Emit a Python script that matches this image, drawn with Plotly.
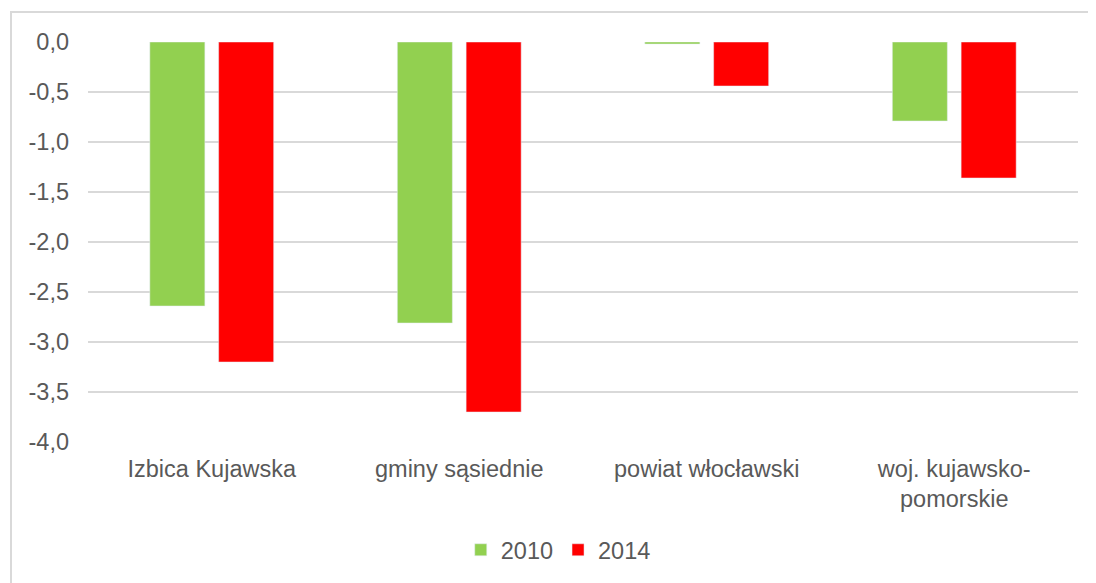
import plotly.graph_objects as go

categories = ["Izbica Kujawska", "gminy sąsiednie", "powiat włocławski", "woj. kujawsko-<br>pomorskie"]
values_2010 = [-2.64, -2.81, -0.02, -0.79]
values_2014 = [-3.20, -3.70, -0.44, -1.36]
y_ticks = [0, -0.5, -1.0, -1.5, -2.0, -2.5, -3.0, -3.5, -4.0]
y_tick_labels = ["0,0", "-0,5", "-1,0", "-1,5", "-2,0", "-2,5", "-3,0", "-3,5", "-4,0"]

font_family = "Liberation Sans, Arial, sans-serif"
text_color = "#595959"
fs = 23.5

fig = go.Figure()
fig.add_trace(go.Bar(name="2010", x=categories, y=values_2010, marker_color="#92D050"))
fig.add_trace(go.Bar(name="2014", x=categories, y=values_2014, marker_color="#FF0000"))

fig.update_layout(
    width=1096, height=583,
    margin=dict(l=80, r=26, t=34, b=149, autoexpand=False),
    paper_bgcolor="white", plot_bgcolor="white",
    barmode="group", bargap=0.444, bargroupgap=0.2,
    font=dict(family=font_family, size=fs, color=text_color),
    showlegend=True,
    legend=dict(orientation="h", x=0.475, xanchor="center", y=-0.27, yanchor="middle",
                font=dict(size=fs, color=text_color), itemwidth=30, traceorder="normal"),
    xaxis=dict(showgrid=False, showline=False, zeroline=False, ticks="", automargin=False,
               ticklabelstandoff=10, tickfont=dict(size=fs, color=text_color)),
    yaxis=dict(range=[-4.0, 0.0], tickvals=y_ticks, ticktext=y_tick_labels, automargin=False,
               showgrid=True, gridcolor="#D9D9D9", gridwidth=1.5,
               zeroline=False, showline=False, ticks="",
               ticklabelstandoff=18, tickfont=dict(size=fs, color=text_color)),
    shapes=[dict(type="rect", xref="paper", yref="paper",
                 x0=(11 - 88) / 990, x1=1.05, y0=-0.4, y1=1 + 30 / 400,
                 line=dict(color="#D9D9D9", width=2), fillcolor="rgba(0,0,0,0)", layer="below")],
)

fig.write_html("out.html")
